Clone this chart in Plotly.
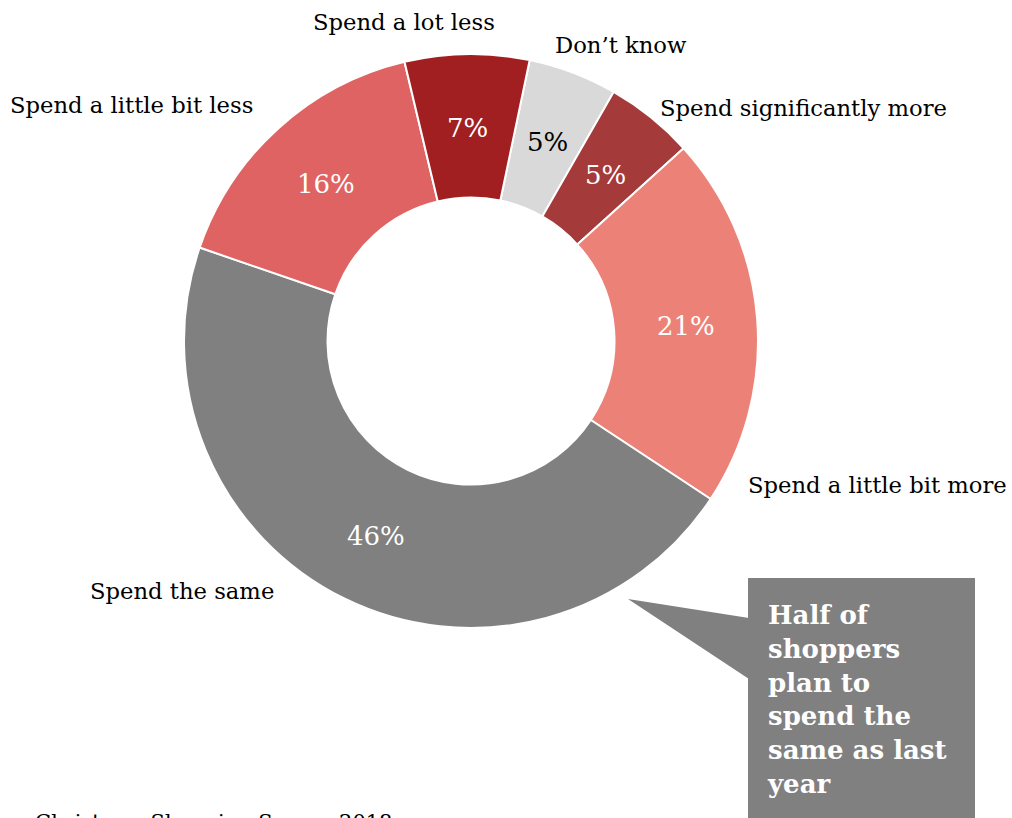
import math
import plotly.graph_objects as go

# Survey answers, clockwise from the top of the ring
categories = ["Don’t know", "Spend significantly more", "Spend a little bit more",
              "Spend the same", "Spend a little bit less", "Spend a lot less"]
shares = [5, 5, 21, 46, 16, 7]
slice_colors = ["#d9d9d9", "#a43b3a", "#ec8277", "#808080", "#e06363", "#a11f21"]
pct_colors = ["#000000", "#ffffff", "#ffffff", "#ffffff", "#ffffff", "#ffffff"]

W, H = 1012, 818
SERIF = "DejaVu Serif, Georgia, serif"
START_ANGLE = 11.8  # degrees clockwise from 12 o'clock


def px(x):
    return x / W


def py(y):
    return 1 - y / H


cx, cy, r = 471, 341, 287

fig = go.Figure(go.Pie(
    labels=categories,
    values=shares,
    sort=False,
    direction="clockwise",
    rotation=START_ANGLE,
    hole=0.5,
    marker=dict(colors=slice_colors, line=dict(color="#ffffff", width=2)),
    textinfo="none",
    domain=dict(x=[px(cx - r), px(cx + r)], y=[py(cy + r), py(cy - r)]),
    showlegend=False,
    hoverinfo="label+percent",
))

annotations = []

# Percentage labels at the middle of each ring segment
total = sum(shares)
acc = 0.0
label_r = 0.75 * r
for share, col in zip(shares, pct_colors):
    mid = math.radians(START_ANGLE + 360.0 * (acc + share / 2) / total)
    acc += share
    lx = cx + label_r * math.sin(mid)
    ly = cy - label_r * math.cos(mid) + 2
    annotations.append(dict(
        text=f"{share}%", x=px(lx), y=py(ly), xref="paper", yref="paper",
        xanchor="center", yanchor="middle", showarrow=False,
        font=dict(family=SERIF, size=26, color=col),
    ))

# Category labels placed around the ring
outer_labels = [
    ("Spend a lot less", 311, 22),
    ("Don’t know", 553, 45),
    ("Spend significantly more", 658, 108),
    ("Spend a little bit more", 746, 485),
    ("Spend the same", 88, 591),
    ("Spend a little bit less", 8, 105),
]
for t, x, y in outer_labels:
    annotations.append(dict(
        text=t, x=px(x), y=py(y), xref="paper", yref="paper",
        xanchor="left", yanchor="middle", showarrow=False,
        font=dict(family=SERIF, size=22.7, color="#000000"),
    ))

# Callout text
annotations.append(dict(
    text="Half of<br>shoppers<br>plan to<br>spend the<br>same as last<br>year",
    x=px(765), y=py(598), xref="paper", yref="paper",
    xanchor="left", yanchor="top", align="left", showarrow=False,
    font=dict(family=SERIF, size=26, color="#ffffff", weight="bold"),
))

# Source line at the bottom edge
annotations.append(dict(
    text="Christmas Shopping Survey 2018",
    x=px(33), y=py(808), xref="paper", yref="paper",
    xanchor="left", yanchor="top", showarrow=False,
    font=dict(family=SERIF, size=21, color="#000000"),
))

shapes = [
    dict(type="rect", xref="paper", yref="paper",
         x0=px(748), x1=px(975), y0=py(830), y1=py(578),
         fillcolor="#808080", line=dict(width=0), layer="below"),
    dict(type="path", xref="paper", yref="paper",
         path=f"M {px(628)} {py(599)} L {px(749)} {py(618)} L {px(749)} {py(679)} Z",
         fillcolor="#808080", line=dict(width=0), layer="below"),
]

fig.update_layout(
    width=W, height=H,
    margin=dict(l=0, r=0, t=0, b=0),
    paper_bgcolor="#ffffff",
    plot_bgcolor="#ffffff",
    annotations=annotations,
    shapes=shapes,
)

fig.write_html("out.html")
